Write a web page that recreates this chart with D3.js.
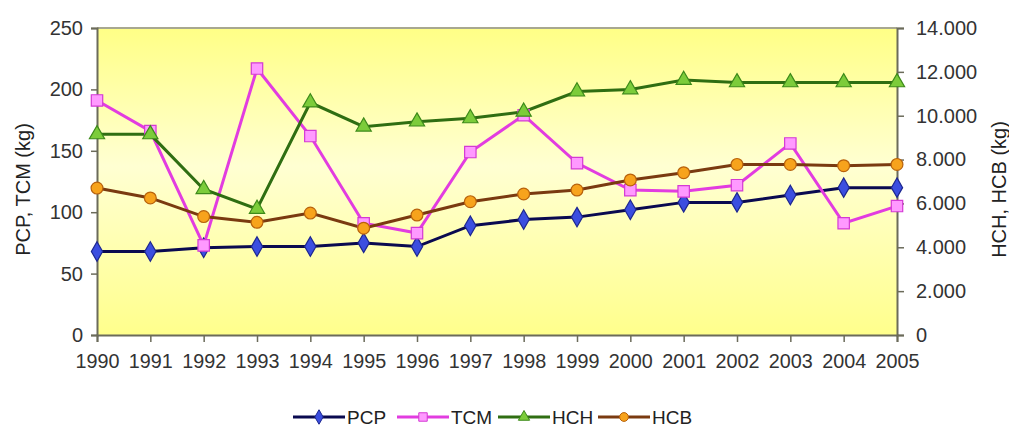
<!DOCTYPE html>
<html>
<head>
<meta charset="utf-8">
<script src="https://cdn.jsdelivr.net/npm/d3@7"></script>
<style>
  body { margin: 0; background: #fff; }
  svg { display: block; font-family: "Liberation Sans", Arial, sans-serif; }
</style>
</head>
<body>
<svg id="chart" width="1009" height="429"></svg>
<script>
const years = [1990, 1991, 1992, 1993, 1994, 1995, 1996, 1997, 1998, 1999, 2000, 2001, 2002, 2003, 2004, 2005];
const pcp = [68, 68, 71, 72, 72, 75, 72, 89, 94, 96, 102, 108, 108, 114, 120, 120];
const tcm = [191, 166, 73, 217, 162, 91, 83, 149, 179, 140, 118, 117, 122, 156, 91, 105];
const hch = [9150, 9150, 6650, 5750, 10600, 9500, 9730, 9880, 10180, 11100, 11200, 11630, 11520, 11520, 11520, 11520];
const hcb = [6700, 6250, 5400, 5140, 5560, 4870, 5470, 6080, 6430, 6610, 7070, 7400, 7780, 7780, 7720, 7780];
const leftTicks = [0, 50, 100, 150, 200, 250];
const rightTicks = [0, 2000, 4000, 6000, 8000, 10000, 12000, 14000];

(function () {
  const svg = d3.select("#chart");
  const width = 1009, height = 429;
  const margin = { top: 28, right: 112, bottom: 94, left: 97 };
  const x0 = margin.left, x1 = width - margin.right;
  const y0 = height - margin.bottom, y1 = margin.top;

  const x = d3.scaleLinear().domain([1990, 2005]).range([x0, x1]);
  const yL = d3.scaleLinear().domain([0, 250]).range([y0, y1]);
  const yR = d3.scaleLinear().domain([0, 14000]).range([y0, y1]);

  // plot background
  const defs = svg.append("defs");
  const grad = defs.append("linearGradient").attr("id", "bg")
    .attr("x1", 0).attr("y1", 0).attr("x2", 0).attr("y2", 1);
  grad.append("stop").attr("offset", "0%").attr("stop-color", "#ffff86");
  grad.append("stop").attr("offset", "45%").attr("stop-color", "#ffffd2");
  grad.append("stop").attr("offset", "100%").attr("stop-color", "#ffff8c");

  svg.append("rect")
    .attr("x", x0).attr("y", y1)
    .attr("width", x1 - x0).attr("height", y0 - y1)
    .attr("fill", "url(#bg)");
  svg.append("line")
    .attr("x1", x0).attr("x2", x1).attr("y1", y1).attr("y2", y1)
    .attr("stroke", "#a8a890").attr("stroke-width", 2);

  const fmtR = d => d === 0 ? "0" : d3.format(",")(d).replace(",", ".");

  const gx = svg.append("g")
    .attr("transform", `translate(0,${y0})`)
    .call(d3.axisBottom(x).tickValues(years).tickFormat(d3.format("d")).tickSize(7).tickPadding(12));
  const gl = svg.append("g")
    .attr("transform", `translate(${x0},0)`)
    .call(d3.axisLeft(yL).tickValues(leftTicks).tickSize(6).tickPadding(8));
  const gr = svg.append("g")
    .attr("transform", `translate(${x1},0)`)
    .call(d3.axisRight(yR).tickValues(rightTicks).tickFormat(fmtR).tickSize(7).tickPadding(12));

  [gx, gl, gr].forEach(g => {
    g.select("path.domain").attr("stroke", "#6b6b5a").attr("stroke-width", 2);
    g.selectAll(".tick line").attr("stroke", "#6b6b5a").attr("stroke-width", 1.5);
    g.selectAll(".tick text").attr("fill", "#333").style("font-size", "20px")
      .style("font-family", "'Liberation Sans', Arial, sans-serif");
  });
  gx.selectAll(".tick text").attr("textLength", 44).attr("lengthAdjust", "spacingAndGlyphs");

  // axis titles
  svg.append("text")
    .attr("transform", `translate(30,${(y0 + y1) / 2 + 8}) rotate(-90)`)
    .attr("text-anchor", "middle")
    .attr("fill", "#222").style("font-size", "20px")
    .text("PCP, TCM (kg)");
  svg.append("text")
    .attr("transform", `translate(1006,${(y0 + y1) / 2 + 8}) rotate(-90)`)
    .attr("text-anchor", "middle")
    .attr("fill", "#222").style("font-size", "20px")
    .text("HCH, HCB (kg)");

  const series = [
    { name: "PCP", values: pcp, y: yL, line: "#0a0a50", fill: "#3b4ee0", stroke: "#1d2790", symbol: d3.symbolDiamond, size: 110 },
    { name: "TCM", values: tcm, y: yL, line: "#e23ce0", fill: "#ff99ff", stroke: "#d43ad4", symbol: d3.symbolSquare, size: 130 },
    { name: "HCH", values: hch, y: yR, line: "#2f6e12", fill: "#7ccc3a", stroke: "#3d8a1a", symbol: d3.symbolTriangle, size: 100 },
    { name: "HCB", values: hcb, y: yR, line: "#7a3a10", fill: "#f7a31c", stroke: "#b8620c", symbol: d3.symbolCircle, size: 110 }
  ];

  const plot = svg.append("g");
  series.forEach(s => {
    const pts = years.map((yr, i) => [x(yr), s.y(s.values[i])]);
    plot.append("path")
      .attr("d", d3.line()(pts))
      .attr("fill", "none")
      .attr("stroke", s.line)
      .attr("stroke-width", 3);
  });
  series.forEach(s => {
    plot.selectAll(null)
      .data(years.map((yr, i) => [x(yr), s.y(s.values[i])]))
      .enter()
      .append("path")
      .attr("d", d3.symbol().type(s.symbol).size(s.size))
      .attr("transform", d => `translate(${d[0]},${d[1]})`)
      .attr("fill", s.fill)
      .attr("stroke", s.stroke)
      .attr("stroke-width", 1.2);
  });

  // legend
  const legendX = [293, 397, 498, 598];
  const ly = 417;
  series.forEach((s, i) => {
    const g = svg.append("g").attr("transform", `translate(${legendX[i]},${ly})`);
    g.append("line").attr("x1", 0).attr("x2", 52).attr("y1", 0).attr("y2", 0)
      .attr("stroke", s.line).attr("stroke-width", 3);
    g.append("path")
      .attr("d", d3.symbol().type(s.symbol).size(s.size * 0.55))
      .attr("transform", "translate(26,0)")
      .attr("fill", s.fill).attr("stroke", s.stroke).attr("stroke-width", 1);
    g.append("text")
      .attr("x", 54).attr("y", 7)
      .attr("fill", "#222").style("font-size", "19px")
      .text(s.name);
  });
})();
</script>
</body>
</html>
